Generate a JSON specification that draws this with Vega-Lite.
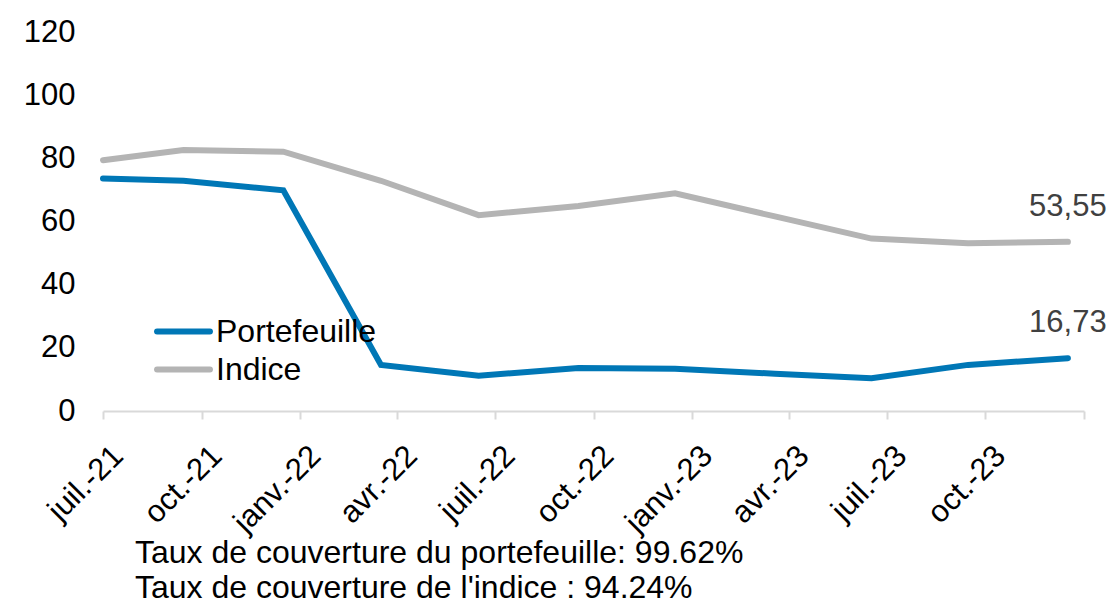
{
  "$schema": "https://vega.github.io/schema/vega-lite/v6.json",
  "width": 981,
  "height": 379,
  "autosize": {"type": "none"},
  "padding": {"left": 103, "top": 32, "right": 28, "bottom": 192},
  "background": "white",
  "config": {
    "view": {"stroke": null},
    "font": "Liberation Sans",
    "locale": {"number": {"decimal": ",", "thousands": " ", "grouping": [3], "currency": ["", " €"]}}
  },
  "title": {
    "text": ["Taux de couverture du portefeuille: 99.62%", "Taux de couverture de l'indice : 94.24%"],
    "orient": "bottom",
    "anchor": "start",
    "frame": "group",
    "dx": 32,
    "offset": 0,
    "fontSize": 32,
    "fontWeight": "normal",
    "color": "black",
    "lineHeight": 35,
    "font": "Liberation Sans"
  },
  "data": {
    "values": [
      {"date": "2021-07-01", "serie": "Portefeuille", "value": 73.6},
      {"date": "2021-09-14", "serie": "Portefeuille", "value": 72.9},
      {"date": "2021-12-16", "serie": "Portefeuille", "value": 69.9},
      {"date": "2022-03-17", "serie": "Portefeuille", "value": 14.6},
      {"date": "2022-06-16", "serie": "Portefeuille", "value": 11.2},
      {"date": "2022-09-17", "serie": "Portefeuille", "value": 13.6},
      {"date": "2022-12-16", "serie": "Portefeuille", "value": 13.4},
      {"date": "2023-03-19", "serie": "Portefeuille", "value": 11.8},
      {"date": "2023-06-17", "serie": "Portefeuille", "value": 10.4},
      {"date": "2023-09-15", "serie": "Portefeuille", "value": 14.6},
      {"date": "2023-12-17", "serie": "Portefeuille", "value": 16.73},
      {"date": "2021-07-01", "serie": "Indice", "value": 79.4},
      {"date": "2021-09-14", "serie": "Indice", "value": 82.6},
      {"date": "2021-12-16", "serie": "Indice", "value": 82.1},
      {"date": "2022-03-17", "serie": "Indice", "value": 72.9},
      {"date": "2022-06-16", "serie": "Indice", "value": 62.0},
      {"date": "2022-09-17", "serie": "Indice", "value": 64.9},
      {"date": "2022-12-16", "serie": "Indice", "value": 68.9},
      {"date": "2023-03-19", "serie": "Indice", "value": 61.6},
      {"date": "2023-06-17", "serie": "Indice", "value": 54.6},
      {"date": "2023-09-15", "serie": "Indice", "value": 53.1},
      {"date": "2023-12-17", "serie": "Indice", "value": 53.55}
    ]
  },
  "encoding": {
    "x": {
      "field": "date",
      "type": "temporal",
      "scale": {"type": "utc", "domain": [{"year": 2021, "month": 7, "date": 1, "utc": true}, {"year": 2024, "month": 1, "date": 1, "utc": true}]},
      "axis": {
        "title": null,
        "grid": false,
        "values": [
          {"year": 2021, "month": 7, "date": 1, "utc": true},
          {"year": 2021, "month": 10, "date": 1, "utc": true},
          {"year": 2022, "month": 1, "date": 1, "utc": true},
          {"year": 2022, "month": 4, "date": 1, "utc": true},
          {"year": 2022, "month": 7, "date": 1, "utc": true},
          {"year": 2022, "month": 10, "date": 1, "utc": true},
          {"year": 2023, "month": 1, "date": 1, "utc": true},
          {"year": 2023, "month": 4, "date": 1, "utc": true},
          {"year": 2023, "month": 7, "date": 1, "utc": true},
          {"year": 2023, "month": 10, "date": 1, "utc": true},
          {"year": 2024, "month": 1, "date": 1, "utc": true}
        ],
        "labelExpr": "utcyear(datum.value) > 2023 ? '' : (utcmonth(datum.value) == 0 ? 'janv.' : utcmonth(datum.value) == 3 ? 'avr.' : utcmonth(datum.value) == 6 ? 'juil.' : 'oct.') + '-' + utcFormat(datum.value, '%y')",
        "labelAngle": -45,
        "labelAlign": "right",
        "labelBaseline": "middle",
        "labelOffset": 15,
        "labelFontSize": 31,
        "labelColor": "black",
        "labelFont": "Liberation Sans",
        "labelOverlap": false,
        "domainColor": "#d9d9d9",
        "domainWidth": 2,
        "tickColor": "#d9d9d9",
        "tickWidth": 2,
        "tickSize": 8,
        "labelPadding": 32
      }
    },
    "y": {
      "field": "value",
      "type": "quantitative",
      "scale": {"domain": [0, 120], "nice": false},
      "axis": {
        "title": null,
        "grid": false,
        "domain": false,
        "ticks": false,
        "values": [0, 20, 40, 60, 80, 100, 120],
        "labelFontSize": 31,
        "labelColor": "black",
        "labelFont": "Liberation Sans",
        "labelPadding": 28
      }
    }
  },
  "layer": [
    {
      "mark": {"type": "line", "strokeWidth": 6, "strokeCap": "round"},
      "encoding": {
        "color": {
          "field": "serie",
          "type": "nominal",
          "scale": {"domain": ["Portefeuille", "Indice"], "range": ["#0077b6", "#b4b4b4"]},
          "legend": {
            "orient": "none",
            "legendX": 64,
            "legendY": 283,
            "title": null,
            "symbolType": "M-2,0H2",
            "symbolStrokeWidth": 6,
            "symbolSize": 700,
            "labelFontSize": 32,
            "labelLimit": 400,
            "labelColor": "black",
            "labelFont": "Liberation Sans",
            "labelOffset": 16,
            "rowPadding": 5,
            "padding": 0,
            "encode": {"symbols": {"update": {"strokeCap": {"value": "round"}}}}
          }
        }
      }
    },
    {
      "transform": [{"filter": "utcyear(datum.date) == 2023 && utcmonth(datum.date) == 11"}],
      "mark": {"type": "text", "fontSize": 31, "color": "#404040", "dy": -26, "baseline": "alphabetic", "align": "center", "font": "Liberation Sans"},
      "encoding": {
        "text": {"field": "value", "type": "quantitative", "format": ".2f"}
      }
    }
  ]
}
